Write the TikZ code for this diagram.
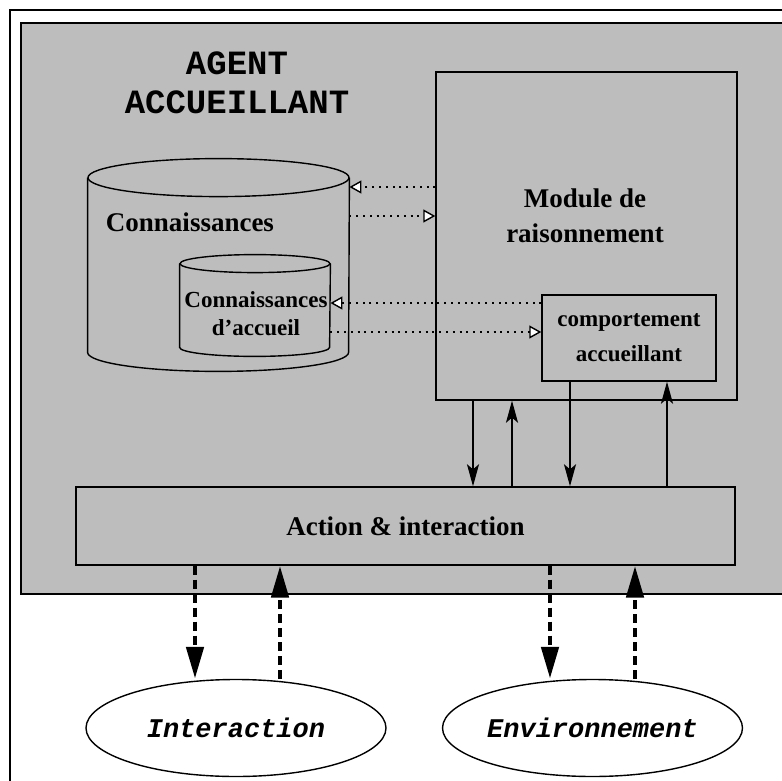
\documentclass[tikz,border=0pt]{standalone}
\usepackage{fontspec}
\setmainfont{Liberation Serif}
\newfontfamily\agentmono{Liberation Mono}
\usepackage{tikz}
\usetikzlibrary{arrows.meta}
\usetikzlibrary{shapes.geometric}
\usetikzlibrary{positioning}
\definecolor{agentgray}{gray}{0.74}

\begin{document}
\begin{tikzpicture}[x=0.5pt,y=-0.5pt,
    box/.style={draw,line width=0.7pt,inner sep=0pt},
    lbl/.style={font=\fontsize{13.5}{17.5}\selectfont\bfseries,align=center,inner sep=0pt},
    smalllbl/.style={font=\fontsize{11.5}{14}\selectfont\bfseries,align=center,inner sep=0pt},
    comportlbl/.style={font=\fontsize{11.5}{17.5}\selectfont\bfseries,align=center},
    cylline/.style={line width=0.7pt},
    dotarrow/.style={line width=1pt,dash pattern=on 1pt off 2.4pt,
        -{Triangle[length=6pt,width=6.5pt,fill=white,line width=0.7pt]}},
    solidarrow/.style={line width=1pt,-{Stealth[length=11pt,width=6pt,inset=2.5pt]}},
    dasharrow/.style={line width=2.4pt,dash pattern=on 4.5pt off 2.5pt,
        -{Triangle[length=16pt,width=8.5pt]}},
    world/.style={draw,ellipse,fill=white,line width=0.7pt,minimum width=150pt,
        minimum height=48.5pt,inner sep=0pt,
        font=\agentmono\fontsize{13.5}{16}\selectfont\bfseries\itshape}]
    \useasboundingbox (0,0) rectangle (782,781);
    \draw[line width=0.8pt] (10,10) rectangle (800,800);
    \draw[line width=1.4pt,fill=agentgray] (21,23) rectangle (800,594);

    \node[font=\agentmono\fontsize{17}{19.5}\selectfont\bfseries,align=center,inner sep=0pt]
        (agent) at (237,82.5) {AGENT\\ACCUEILLANT};

    % bases de connaissances
    \node[inner sep=0pt,minimum width=130.5pt,minimum height=87pt] (bigcyl) at (218.5,265) {};
    \draw[cylline] (bigcyl.north west) -- (bigcyl.south west)
        arc[start angle=180,end angle=360,x radius=65.25pt,y radius=9.5pt] -- (bigcyl.north east);
    \draw[cylline] (bigcyl.north) ellipse[x radius=65.25pt,y radius=9.5pt];
    \node[lbl] (conn) at (190,222) {Connaissances};

    \node[inner sep=0pt,minimum width=75pt,minimum height=41.5pt] (smallcyl) at (255,305.5) {};
    \draw[cylline] (smallcyl.north west) -- (smallcyl.south west)
        arc[start angle=180,end angle=360,x radius=37.5pt,y radius=4.5pt] -- (smallcyl.north east);
    \draw[cylline] (smallcyl.north) ellipse[x radius=37.5pt,y radius=4.5pt];
    \node[smalllbl] (connacc) at (256,314) {Connaissances\\d'accueil};

    % raisonnement
    \node[box,minimum width=150.5pt,minimum height=164pt] (module) at (586.5,236) {};
    \node[lbl] (modlbl) at (585,216) {Module de\\raisonnement};
    \node[box,comportlbl,inner sep=0pt,minimum width=87pt,minimum height=43pt]
        (comport) at (629,338) {comportement\\accueillant};

    \node[box,lbl,minimum width=329.5pt,minimum height=39pt] (action) at (405.5,526) {Action \& interaction};

    \node[world] (interaction) at (236,728) {Interaction};
    \node[world] (environ) at (592.5,728) {Environnement};

    % echanges avec les connaissances
    \coordinate (q1) at ([yshift=24.5pt]module.west);
    \coordinate (q2) at ([yshift=10pt]module.west);
    \coordinate (q3) at ([yshift=17.5pt]comport.west);
    \coordinate (q4) at ([yshift=3pt]comport.west);
    \draw[dotarrow] (q1) -- (q1 -| bigcyl.east);
    \draw[dotarrow] (q2 -| bigcyl.east) -- (q2);
    \draw[dotarrow] (q3) -- (q3 -| smallcyl.east);
    \draw[dotarrow] (q4 -| smallcyl.east) -- (q4);

    % vers action & interaction
    \coordinate (m1) at ([xshift=-56.75pt]module.south);
    \coordinate (m2) at ([xshift=-37.25pt]module.south);
    \coordinate (c1) at ([xshift=-29.5pt]comport.south);
    \coordinate (c2) at ([xshift=19pt]comport.south);
    \draw[solidarrow] (m1) -- (m1 |- action.north);
    \draw[solidarrow] (m2 |- action.north) -- (m2);
    \draw[solidarrow] (c1) -- (c1 |- action.north);
    \draw[solidarrow] (c2 |- action.north) -- (c2);

    % monde exterieur
    \coordinate (i1) at ([xshift=-20.5pt]interaction.north);
    \coordinate (i2) at ([xshift=22pt]interaction.north);
    \coordinate (e1) at ([xshift=-21.25pt]environ.north);
    \coordinate (e2) at ([xshift=21.25pt]environ.north);
    \draw[dasharrow] (i1 |- action.south) -- (i1);
    \draw[dasharrow] (i2) -- (i2 |- action.south);
    \draw[dasharrow] (e1 |- action.south) -- (e1);
    \draw[dasharrow] (e2) -- (e2 |- action.south);
\end{tikzpicture}
\end{document}
